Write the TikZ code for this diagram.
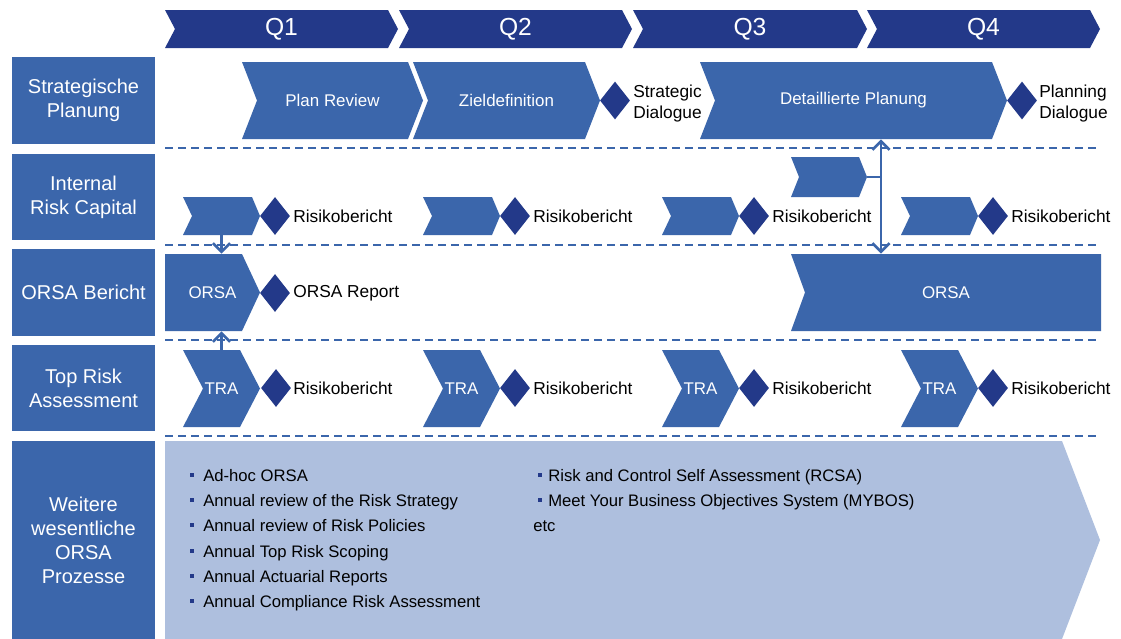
\documentclass[tikz,border=0pt]{standalone}
\usepackage{fontspec}
\setmainfont{Liberation Sans}
\usetikzlibrary{shapes.geometric,arrows.meta}
\definecolor{navy}{HTML}{233989}
\definecolor{midblue}{HTML}{3B66AB}
\definecolor{lightblue}{HTML}{AEBFDE}
\newcommand{\myqfont}{\fontsize{18.5}{22}\selectfont}
\tikzset{
 shapebox/.style={text=white,inner sep=0pt,font=\fontsize{12.7}{15}\selectfont},
 rowlabel/.style={fill=midblue,text=white,font=\fontsize{15}{18}\selectfont,align=center,inner sep=0pt,minimum width=107.25pt},
 dia/.style={diamond,fill=navy,inner sep=0pt,minimum width=22.5pt,minimum height=28.5pt},
 btext/.style={font=\fontsize{13}{15.75}\selectfont,inner sep=0pt,align=left,anchor=west},
 litext/.style={font=\fontsize{12.5}{15}\selectfont,inner sep=0pt,anchor=mid west},
 bul/.style={fill=navy,inner sep=0pt,minimum size=3pt},
 sep/.style={midblue,line width=1.5pt,dash pattern=on 6pt off 3.75pt},
 barb/.tip={Straight Barb[length=6.5pt,width=13pt,line width=2pt]},
 conn/.style={midblue,line width=2.2pt,-barb},
 conntwo/.style={midblue,line width=2.2pt,barb-barb},
 plainconn/.style={midblue,line width=2.2pt},
}
% #1 colour, #2 name, #3 text, #4 xl, #5 xr, #6 yt, #7 yb, #8 notch, #9 tip
\newcommand{\mychev}[9]{%
 \fill[#1] (#4,#6) -- ({#5-#9},#6) -- (#5,{(#6+#7)/2}) -- ({#5-#9},#7) -- (#4,#7) -- ({#4+#8},{(#6+#7)/2}) -- cycle;
 \node[shapebox, minimum width={(#5-#4)*0.75pt}, minimum height={(#7-#6)*0.75pt}] (#2) at ({(#4+#5)/2},{(#6+#7)/2}) {#3};
}
\begin{document}
\begin{tikzpicture}[x=0.75pt,y=-0.75pt]
\useasboundingbox (0,0) rectangle (1121,639);
\fill[white] (0,0) rectangle (1121,639);

% separators
\foreach \yy in {148,245,340,436} \draw[sep] (165,\yy) -- (1100,\yy);

% header
\mychev{navy}{q1}{\myqfont Q1}{165}{398}{10}{48}{10}{10}
\mychev{navy}{q2}{\myqfont Q2}{399}{632}{10}{48}{10}{10}
\mychev{navy}{q3}{\myqfont Q3}{633}{867}{10}{48}{10}{10}
\mychev{navy}{q4}{\myqfont Q4}{867}{1100}{10}{48}{10}{10}

% row labels
\node[rowlabel,minimum height=65.25pt] (lsp) at (83.5,100.5) {Strategische\\Planung};
\node[rowlabel,minimum height=64.5pt] (lirc) at (83.5,197) {Internal\\Risk Capital};
\node[rowlabel,minimum height=65.25pt] (lorsa) at (83.5,292.5) {ORSA Bericht};
\node[rowlabel,minimum height=64.5pt] (ltra) at (83.5,388) {Top Risk\\Assessment};
\node[rowlabel,minimum height=148.5pt] (lwei) at (83.5,540) {Weitere\\wesentliche\\ORSA\\Prozesse};

% strategic planning row
\mychev{midblue}{pr}{Plan Review}{242}{423}{62}{139}{15}{15}
\mychev{midblue}{zd}{Zieldefinition}{413}{600}{62}{139}{15}{15}
\node[dia] (dsd) at (615,100.5) {};
\node[btext] (sd) at (633,103.5) {Strategic\\Dialogue};
\mychev{midblue}{dp}{Detaillierte Planung}{700}{1007}{62}{139}{15}{15}
\node[dia] (dpd) at (1022,100.5) {};
\node[btext] (pd) at (1039,103.5) {Planning\\Dialogue};

% internal risk capital row
\mychev{midblue}{ir1}{}{183}{260}{197}{235}{9}{8}
\node[dia] (di1) at (275,216) {};
\node[btext] (ti1) at (293,216) {Risikobericht};
\mychev{midblue}{ir2}{}{423}{500}{197}{235}{9}{8}
\node[dia] (di2) at (515,216) {};
\node[btext] (ti2) at (533,216) {Risikobericht};
\mychev{midblue}{ir3}{}{662}{739}{197}{235}{9}{8}
\node[dia] (di3) at (754,216) {};
\node[btext] (ti3) at (772,216) {Risikobericht};
\mychev{midblue}{ir4}{}{901}{978}{197}{235}{9}{8}
\node[dia] (di4) at (993,216) {};
\node[btext] (ti4) at (1011,216) {Risikobericht};
\mychev{midblue}{irx}{}{791}{867}{157}{197}{8}{8}

% ORSA row
\mychev{midblue}{or1}{ORSA}{165}{260}{254}{331}{0}{18}
\node[dia] (do1) at (275,293) {};
\node[btext] (to1) at (293,293) {ORSA Report};
\mychev{midblue}{or2}{ORSA}{791}{1101}{254}{331}{14}{0}

% TRA row
\mychev{midblue}{tr1}{TRA}{183}{260}{350}{427}{20}{20}
\node[dia] (dt1) at (276,388) {};
\node[btext] (tt1) at (293,388) {Risikobericht};
\mychev{midblue}{tr2}{TRA}{423}{500}{350}{427}{20}{20}
\node[dia] (dt2) at (515,388) {};
\node[btext] (tt2) at (533,388) {Risikobericht};
\mychev{midblue}{tr3}{TRA}{662}{739}{350}{427}{20}{20}
\node[dia] (dt3) at (754,388) {};
\node[btext] (tt3) at (772,388) {Risikobericht};
\mychev{midblue}{tr4}{TRA}{901}{978}{350}{427}{20}{20}
\node[dia] (dt4) at (993,388) {};
\node[btext] (tt4) at (1011,388) {Risikobericht};

% weitere row
\mychev{lightblue}{wb}{}{165}{1100}{441}{639}{0}{38}
\foreach \yy/\tt [count=\i] in {475/Ad-hoc ORSA,500/Annual review of the Risk Strategy,525/Annual review of Risk Policies,551/Annual Top Risk Scoping,576/Annual Actuarial Reports,601/Annual Compliance Risk Assessment}{
 \node[bul] (ba\i) at (192,\yy) {};
 \node[litext] (la\i) at (203,\yy+3) {\tt};
}
\node[bul] (bb1) at (540,475) {};
\node[litext] (lb1) at (548,478) {Risk and Control Self Assessment (RCSA)};
\node[bul] (bb2) at (540,500) {};
\node[litext] (lb2) at (548,503) {Meet Your Business Objectives System (MYBOS)};
\node[litext] (lb3) at (533,528) {etc};

% connectors
\draw[conn] (ir1.south) -- (ir1.south |- or1.north);
\draw[conn] (tr1.north) -- (tr1.north |- or1.south);
\coordinate (vx) at (881,0);
\draw[conntwo] (dp.south -| vx) -- (or2.north -| vx);
\draw[plainconn] (irx.east) -- (irx.east -| vx);
\end{tikzpicture}
\end{document}
